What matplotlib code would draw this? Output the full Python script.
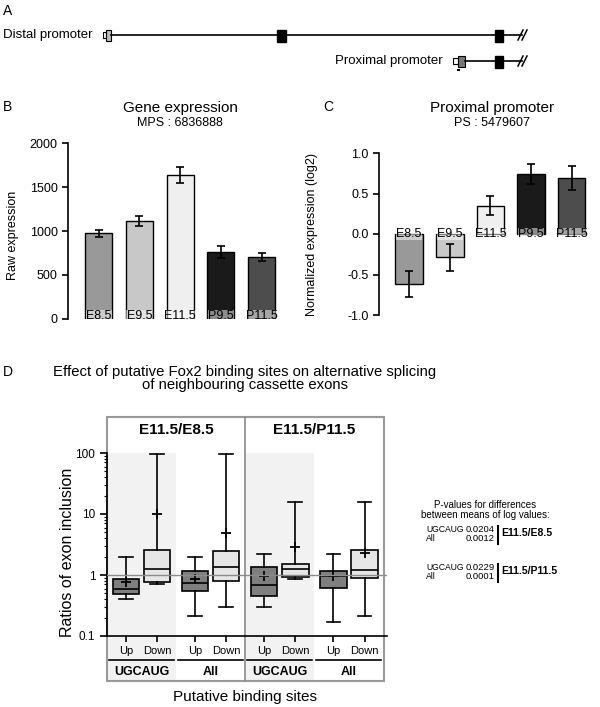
import numpy as np
import matplotlib
matplotlib.use('Agg')
import matplotlib.pyplot as plt
import matplotlib.transforms as mtransforms
from matplotlib.patches import Rectangle
from matplotlib.lines import Line2D
from matplotlib import ticker

plt.rcParams['font.family'] = ['Liberation Sans', 'DejaVu Sans']

W, H = 600, 707

# --- panel A: gene sketch (pixel positions along the sketch)
distal_exons = [(277, 286), (495, 503)]
proximal_exons = [(495, 503)]

# --- panel B / C data
stages = ['E8.5', 'E9.5', 'E11.5', 'P9.5', 'P11.5']
stage_colors = ['#999999', '#c8c8c8', '#efefef', '#1a1a1a', '#4d4d4d']
raw_expr = [975, 1115, 1640, 760, 705]
raw_err = [40, 60, 90, 68, 48]
norm_expr = [-0.62, -0.29, 0.35, 0.74, 0.69]
norm_err = [0.16, 0.165, 0.12, 0.12, 0.15]

# --- panel D data (Up, Down for each site group)
comparisons = ['E11.5/E8.5', 'E11.5/P11.5']
site_groups = ['UGCAUG', 'All', 'UGCAUG', 'All']
directions = ['Up', 'Down']
box_lo = [0.40, 0.71, 0.21, 0.30, 0.30, 0.86, 0.17, 0.21]
box_q1 = [0.49, 0.77, 0.55, 0.80, 0.45, 0.93, 0.61, 0.89]
box_med = [0.59, 1.25, 0.74, 1.35, 0.69, 1.25, 0.95, 1.20]
box_q3 = [0.86, 2.57, 1.16, 2.47, 1.35, 1.51, 1.16, 2.57]
box_hi = [2.0, 98, 2.0, 98, 2.2, 15.7, 2.2, 15.7]
box_mean = [0.77, 10.0, 0.86, 4.9, 0.96, 2.88, 0.96, 2.3]
box_colors = ['#7f7f7f', '#e6e6e6']

pval_sites = ['UGCAUG', 'All']
pvals = [['0.0204', '0.0012'], ['0.0229', '0.0001']]


def fx(x):
    return x / W


def fy(y):
    return 1 - y / H


def px_rect(l, t, r, b):
    return [l / W, 1 - b / H, (r - l) / W, (b - t) / H]


fig = plt.figure(figsize=(6, 7.07), dpi=100)

# ================= A
axA = fig.add_axes([0, 1 - 80 / H, 1, 80 / H])
axA.set_xlim(0, W)
axA.set_ylim(80, 0)
axA.axis('off')
fig.text(fx(3), fy(11), 'A', fontsize=10, va='center')

# distal transcript
axA.plot([111, 522], [35, 35], color='k', lw=1.2)
axA.add_patch(Rectangle((103, 32), 3, 6, fc='white', ec='k', lw=0.8))
axA.add_patch(Rectangle((106, 29.5), 5, 11, fc='#bbbbbb', ec='k', lw=0.8))
for x0, x1 in distal_exons:
    axA.add_patch(Rectangle((x0, 29.5), x1 - x0, 12, fc='k', ec='k'))
axA.text(3, 35, 'Distal promoter', fontsize=9.5, va='center', ha='left')

# proximal transcript
axA.plot([465, 522], [61, 61], color='k', lw=1.2)
axA.add_patch(Rectangle((453, 58), 5, 6, fc='white', ec='k', lw=0.8))
axA.add_patch(Rectangle((458, 55.5), 7, 11, fc='#777777', ec='k', lw=0.8))
for x0, x1 in proximal_exons:
    axA.add_patch(Rectangle((x0, 55.5), x1 - x0, 12, fc='k', ec='k'))
axA.add_patch(Rectangle((457, 68.5), 2.5, 2.5, fc='k', ec='none'))
axA.text(443, 61, 'Proximal promoter', fontsize=9.5, va='center', ha='right')

# break marks
for yy in (35, 61):
    for dx in (0, 4):
        axA.plot([518 + dx, 523 + dx], [yy + 5, yy - 5], color='k', lw=1.1)


def style_bar_axes(ax):
    for s in ('top', 'right', 'bottom'):
        ax.spines[s].set_visible(False)
    ax.spines['left'].set_linewidth(1.2)
    ax.tick_params(axis='y', length=4, width=1.2, labelsize=9)
    ax.set_xticks([])


# ================= B
axB = fig.add_axes(px_rect(68, 143, 282, 319))
x = np.arange(len(stages))
axB.bar(x, raw_expr, width=0.66, color=stage_colors, edgecolor='k', lw=1,
        yerr=raw_err, capsize=3, error_kw=dict(lw=1.2, capthick=1.2))
axB.set_xlim(-0.75, 4.5)
axB.set_ylim(0, 2000)
axB.set_yticks([0, 500, 1000, 1500, 2000])
style_bar_axes(axB)
for i, s in enumerate(stages):
    axB.text(i, 30, s, ha='center', va='center', fontsize=9,
             bbox=dict(fc='white', ec='none', alpha=0.5, pad=0.2))
fig.text(fx(13), fy(235), 'Raw expression', rotation=90, fontsize=9,
         ha='center', va='center')
fig.text(fx(180), fy(108), 'Gene expression', fontsize=11, ha='center', va='center')
fig.text(fx(180), fy(123), 'MPS : 6836888', fontsize=9, ha='center', va='center')
fig.text(fx(3), fy(107), 'B', fontsize=10, va='center')

# ================= C
axC = fig.add_axes(px_rect(379, 153, 592, 315))
axC.bar(x, norm_expr, width=0.68, color=stage_colors, edgecolor='k', lw=1,
        yerr=norm_err, capsize=3, error_kw=dict(lw=1.2, capthick=1.2))
axC.set_xlim(-0.74, 4.5)
axC.set_ylim(-1, 1)
axC.set_yticks([-1, -0.5, 0, 0.5, 1])
axC.yaxis.set_major_formatter(ticker.FormatStrFormatter('%.1f'))
style_bar_axes(axC)
for i, s in enumerate(stages):
    axC.text(i, 0, s, ha='center', va='center', fontsize=9,
             bbox=dict(fc='white', ec='none', alpha=0.5, pad=0.2))
fig.text(fx(312), fy(234), 'Normalized expression (log2)', rotation=90, fontsize=9,
         ha='center', va='center')
fig.text(fx(492), fy(108), 'Proximal promoter', fontsize=11, ha='center', va='center')
fig.text(fx(492), fy(123), 'PS : 5479607', fontsize=9, ha='center', va='center')
fig.text(fx(323), fy(107), 'C', fontsize=10, va='center')

# ================= D
axD = fig.add_axes(px_rect(107, 453, 387, 636))
axD.set_yscale('log')
axD.set_ylim(0.1, 100)
axD.set_xlim(-0.5, 3.55)

positions = []
for g in range(len(site_groups)):
    positions += [g - 0.225, g + 0.225]

stats = []
for i in range(len(box_med)):
    stats.append(dict(whislo=box_lo[i], q1=box_q1[i], med=box_med[i], q3=box_q3[i],
                      whishi=box_hi[i], mean=box_mean[i], fliers=[]))

bp = axD.bxp(stats, positions=positions, widths=0.38, capwidths=0.2,
             patch_artist=True, showmeans=True, showfliers=False,
             boxprops=dict(edgecolor='k', lw=1.2),
             medianprops=dict(color='k', lw=1.2),
             whiskerprops=dict(color='k', lw=1.2),
             capprops=dict(color='k', lw=1.2),
             meanprops=dict(marker='+', markeredgecolor='k', markersize=7, mew=1.3))
for i, b in enumerate(bp['boxes']):
    b.set_facecolor(box_colors[i % 2])

axD.axhline(1, color='#8c8c8c', lw=1, zorder=3)

for s in ('top', 'right'):
    axD.spines[s].set_visible(False)
for s in ('left', 'bottom'):
    axD.spines[s].set_linewidth(1.2)
axD.set_xticks(positions)
axD.set_xticklabels(directions * len(site_groups), fontsize=8)
axD.tick_params(axis='x', length=4, width=1.2, pad=3)
axD.tick_params(axis='y', which='major', length=5, width=1.2, labelsize=8.5)
axD.tick_params(axis='y', which='minor', length=2.5, width=0.8)
axD.yaxis.set_major_formatter(ticker.FuncFormatter(lambda v, p: f'{v:g}'))

blend = mtransforms.blended_transform_factory(axD.transData, axD.transAxes)
frame_top = (636 - 417) / 183
frame_bot = (636 - 681) / 183
for g in (0, 2):
    axD.add_patch(Rectangle((g - 0.5, frame_bot), 1.0, 1 - frame_bot, transform=blend,
                            fc='#f2f2f2', ec='none', zorder=0, clip_on=False))
axD.add_patch(Rectangle((-0.5, frame_bot), 4.0, frame_top - frame_bot, transform=blend,
                        fill=False, ec='#9a9a9a', lw=1.5, zorder=1, clip_on=False))
axD.add_line(Line2D([1.5, 1.5], [frame_bot, frame_top], transform=blend,
                    color='#8a8a8a', lw=1.2, clip_on=False))

for g, name in enumerate(site_groups):
    axD.add_line(Line2D([g - 0.47, g + 0.47], [-0.131, -0.131], transform=blend,
                        color='k', lw=1.2, clip_on=False))
    axD.text(g, -0.197, name, transform=blend, ha='center', va='center',
             fontsize=9, fontweight='bold')
for k, name in enumerate(comparisons):
    axD.text(0.5 + 2 * k, (636 - 430) / 183, name, transform=blend, ha='center',
             va='center', fontsize=11, fontweight='bold')

fig.text(fx(68), fy(552), 'Ratios of exon inclusion', rotation=90, fontsize=11.5,
         ha='center', va='center')
fig.text(fx(245), fy(697), 'Putative binding sites', fontsize=11, ha='center', va='center')
fig.text(fx(245), fy(372), 'Effect of putative Fox2 binding sites on alternative splicing',
         fontsize=10.75, ha='center', va='center')
fig.text(fx(245), fy(385), 'of neighbouring cassette exons', fontsize=10.75,
         ha='center', va='center')
fig.text(fx(3), fy(372), 'D', fontsize=10, va='center')

# p-values
fig.text(fx(485), fy(505), 'P-values for differences', fontsize=7, ha='center', va='center')
fig.text(fx(485), fy(515.5), 'between means of log values:', fontsize=7, ha='center', va='center')
for k, (y0, comp) in enumerate(zip((530, 568), comparisons)):
    for j, site in enumerate(pval_sites):
        yy = y0 + 8.5 * j
        fig.text(fx(426), fy(yy), site, fontsize=6.2, ha='left', va='center')
        fig.text(fx(495), fy(yy), pvals[k][j], fontsize=6.8, ha='right', va='center')
    fig.add_artist(Line2D([fx(497.5), fx(497.5)], [fy(y0 - 4), fy(y0 + 14)], color='k', lw=1.5))
    fig.text(fx(501), fy(y0 + 3), comp, fontsize=7.5, fontweight='bold', ha='left', va='center')

fig.savefig('out.png', dpi=100)
